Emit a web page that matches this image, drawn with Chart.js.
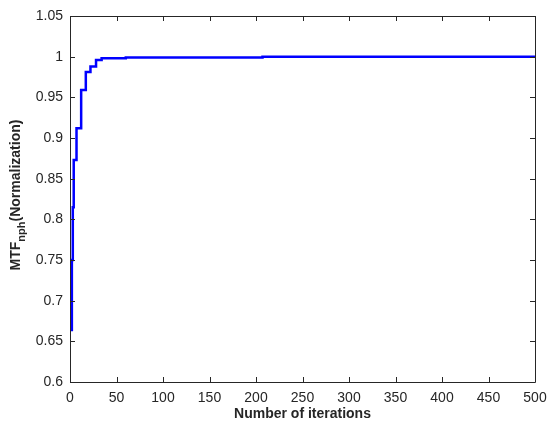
<!DOCTYPE html>
<html>
<head>
<meta charset="utf-8">
<script src="https://cdn.jsdelivr.net/npm/chart.js@4.4.0/dist/chart.umd.min.js"></script>
<style>
  html, body { margin: 0; padding: 0; background: #fff; }
  #wrap { width: 550px; height: 429px; }
</style>
</head>
<body>
<div id="wrap"><canvas id="chart" width="550" height="429"></canvas></div>
<script>
// iteration where the value changes, and the value reached there
const iterations = [1, 2, 3, 4, 7, 12, 17, 22, 28, 34, 60, 207, 500];
const mtfValues = [0.664, 0.75, 0.815, 0.873, 0.912, 0.959, 0.981, 0.988, 0.996, 0.998, 0.999, 1.0, 1.0];

const xTicks = [0, 50, 100, 150, 200, 250, 300, 350, 400, 450, 500];
const yTicks = [0.6, 0.65, 0.7, 0.75, 0.8, 0.85, 0.9, 0.95, 1, 1.05];

const axisColor = '#262626';
const fontFamily = 'Arial, "Liberation Sans", Helvetica, sans-serif';

// box, inward ticks on all sides, and axis titles
const frame = {
  id: 'frame',
  afterDraw(chart) {
    const ctx = chart.ctx;
    const a = chart.chartArea;
    const xs = chart.scales.x, ys = chart.scales.y;
    ctx.save();
    ctx.strokeStyle = axisColor;
    ctx.lineWidth = 1;
    ctx.beginPath();
    ctx.rect(Math.round(a.left) + 0.5, Math.round(a.top) + 0.5,
      Math.round(a.right - a.left), Math.round(a.bottom - a.top));
    xTicks.forEach(t => {
      const px = Math.round(xs.getPixelForValue(t)) + 0.5;
      ctx.moveTo(px, a.bottom); ctx.lineTo(px, a.bottom - 5);
      ctx.moveTo(px, a.top); ctx.lineTo(px, a.top + 5);
    });
    yTicks.forEach(t => {
      const py = Math.round(ys.getPixelForValue(t)) + 0.5;
      ctx.moveTo(a.left, py); ctx.lineTo(a.left + 5, py);
      ctx.moveTo(a.right, py); ctx.lineTo(a.right - 5, py);
    });
    ctx.stroke();

    ctx.fillStyle = axisColor;
    // x title
    ctx.font = 'bold 14px ' + fontFamily;
    ctx.textAlign = 'center';
    ctx.textBaseline = 'middle';
    ctx.fillText('Number of iterations', (a.left + a.right) / 2, 414);

    // y title with subscript
    const main = 'MTF', sub = 'nph', rest = '(Normalization)';
    ctx.translate(17, 195);
    ctx.rotate(-Math.PI / 2);
    ctx.textAlign = 'left';
    ctx.textBaseline = 'alphabetic';
    ctx.font = 'bold 14px ' + fontFamily;
    const w1 = ctx.measureText(main).width;
    const w3 = ctx.measureText(rest).width;
    ctx.font = 'bold 11px ' + fontFamily;
    const w2 = ctx.measureText(sub).width;
    let x = -(w1 + w2 + w3) / 2;
    ctx.font = 'bold 14px ' + fontFamily;
    ctx.fillText(main, x, 3); x += w1;
    ctx.font = 'bold 11px ' + fontFamily;
    ctx.fillText(sub, x, 8); x += w2;
    ctx.font = 'bold 14px ' + fontFamily;
    ctx.fillText(rest, x, 3);
    ctx.restore();
  }
};

new Chart(document.getElementById('chart'), {
  type: 'line',
  data: {
    datasets: [{
      data: iterations.map((it, i) => ({ x: it, y: mtfValues[i] })),
      borderColor: '#0000ff',
      borderWidth: 2.5,
      pointRadius: 0,
      stepped: true,
      fill: false
    }]
  },
  options: {
    responsive: false,
    animation: false,
    devicePixelRatio: 1,
    layout: { padding: { left: 0, right: 15, top: 16, bottom: 0 } },
    plugins: { legend: { display: false }, tooltip: { enabled: false } },
    scales: {
      x: {
        type: 'linear',
        min: 0, max: 500,
        afterBuildTicks: s => { s.ticks = xTicks.map(v => ({ value: v })); },
        afterFit: s => { s.height = 47; s.paddingLeft = 0; s.paddingRight = 0; },
        grid: { display: false, drawTicks: false },
        border: { display: false },
        ticks: { color: axisColor, font: { family: fontFamily, size: 14 }, padding: 8, maxRotation: 0 }
      },
      y: {
        min: 0.6, max: 1.05,
        afterBuildTicks: s => { s.ticks = yTicks.map(v => ({ value: v })); },
        afterFit: s => { s.width = 70; s.paddingTop = 0; s.paddingBottom = 0; },
        grid: { display: false, drawTicks: false },
        border: { display: false },
        ticks: {
          color: axisColor, font: { family: fontFamily, size: 14 }, padding: 7,
          callback: v => String(+v.toFixed(2))
        }
      }
    }
  },
  plugins: [frame]
});
</script>
</body>
</html>
